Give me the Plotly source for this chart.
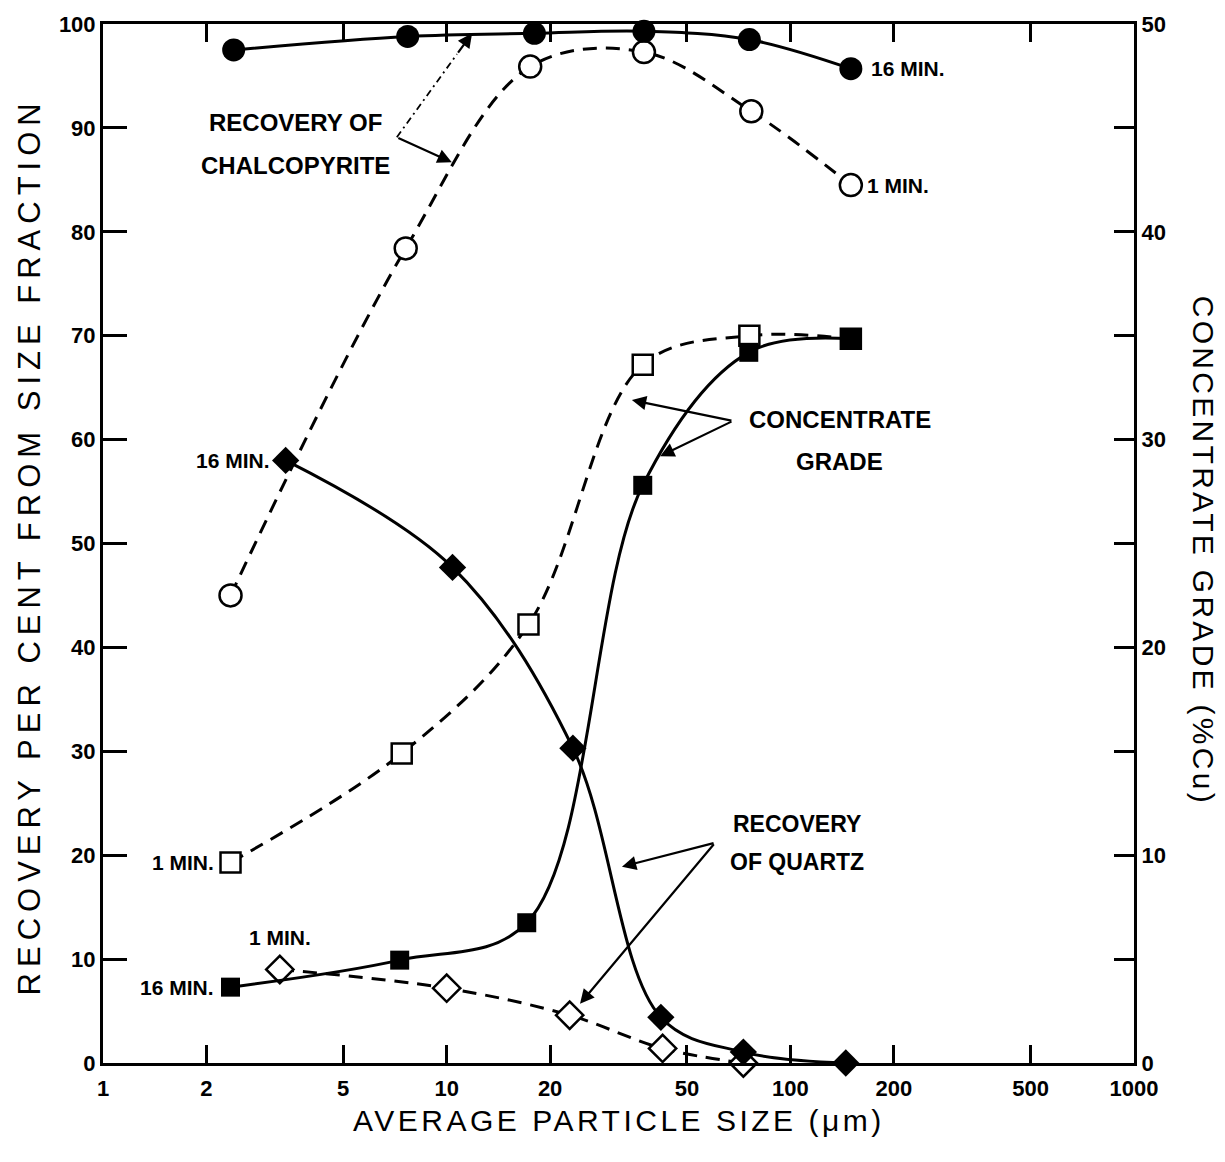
import math
import plotly.graph_objects as go

# ---- data -------------------------------------------------------------
# Recovery of chalcopyrite (% from size fraction) vs average particle size (um)
chalco_16_size = [2.4, 7.7, 18.0, 37.5, 76.0, 150.0]
chalco_16_rec = [97.5, 98.8, 99.1, 99.3, 98.5, 95.7]
chalco_1_size = [2.35, 7.6, 17.5, 37.5, 77.0, 150.0]
chalco_1_rec = [45.0, 78.4, 95.9, 97.3, 91.6, 84.5]

# Concentrate grade (% Cu), right-hand axis
grade_16_size = [2.35, 7.3, 17.1, 37.2, 75.7, 150.0]
grade_16_cu = [3.65, 4.95, 6.75, 27.8, 34.2, 34.85]
grade_1_size = [2.35, 7.4, 17.3, 37.2, 76.0, 150.0]
grade_1_cu = [9.65, 14.9, 21.1, 33.6, 35.0, 34.85]

# Recovery of quartz (% from size fraction)
quartz_16_size = [3.4, 10.4, 23.3, 42.0, 73.0, 145.0]
quartz_16_rec = [58.0, 47.7, 30.3, 4.4, 1.05, 0.0]
quartz_1_size = [3.27, 10.0, 22.8, 42.5, 73.0]
quartz_1_rec = [9.0, 7.2, 4.6, 1.4, 0.0]

x_ticks = [1, 2, 5, 10, 20, 50, 100, 200, 500, 1000]

# ---- styling -----------------------------------------------------------
FONT = "Liberation Sans"
BLACK = "black"
DASH = "14px,9px"
LW = 3


def series(x, y, symbol, size, filled, dashed, yaxis="y"):
    return go.Scatter(
        x=x, y=y, yaxis=yaxis, mode="lines+markers",
        line=dict(color=BLACK, width=LW, shape="spline", smoothing=1.0,
                  dash=DASH if dashed else "solid"),
        marker=dict(symbol=symbol, size=size,
                    color=BLACK if filled else "white",
                    line=dict(color=BLACK, width=0 if filled else 2.5)),
        cliponaxis=False, showlegend=False, hoverinfo="skip",
    )


fig = go.Figure()
# quartz (left axis)
fig.add_trace(series(quartz_1_size, quartz_1_rec, "diamond", 21, False, True))
fig.add_trace(series(quartz_16_size, quartz_16_rec, "diamond", 21, True, False))
# chalcopyrite (left axis)
fig.add_trace(series(chalco_1_size, chalco_1_rec, "circle", 22, False, True))
fig.add_trace(series(chalco_16_size, chalco_16_rec, "circle", 23, True, False))
# concentrate grade (right axis)
fig.add_trace(series(grade_1_size, grade_1_cu, "square", 20, False, True, "y2"))
fig.add_trace(series(grade_16_size, grade_16_cu, "square", 19, True, False, "y2"))

tick_font = dict(family=FONT, size=22, color=BLACK, weight="bold")

fig.update_layout(
    width=1225, height=1162,
    margin=dict(l=103, r=91, t=19, b=99),
    paper_bgcolor="white", plot_bgcolor="white",
    font=dict(family=FONT, color=BLACK),
    xaxis=dict(
        type="log", range=[0, 3], tickvals=x_ticks,
        ticktext=[str(v) for v in x_ticks],
        ticks="inside", ticklen=18, tickwidth=2.5, tickcolor=BLACK,
        ticklabelstandoff=4,
        showline=True, linewidth=3, linecolor=BLACK, mirror="ticks",
        showgrid=False, zeroline=False, tickfont=tick_font,
    ),
    yaxis=dict(
        range=[0, 100], dtick=10, ticks="inside", ticklen=24, tickwidth=3,
        tickcolor=BLACK, showline=True, linewidth=3, linecolor=BLACK,
        showgrid=False, zeroline=False, tickfont=tick_font,
    ),
    yaxis2=dict(
        overlaying="y", side="right", range=[0, 50], dtick=10,
        ticks="inside", ticklen=20, tickwidth=3, tickcolor=BLACK,
        minor=dict(dtick=5, ticks="inside", ticklen=20, tickwidth=3,
                   tickcolor=BLACK),
        showline=True, linewidth=3, linecolor=BLACK,
        showgrid=False, zeroline=False, tickfont=tick_font,
    ),
)

ann = []


def text(x, y, s, size=23, xanchor="center", yref="y", xshift=0, yshift=0):
    ann.append(dict(x=x, y=y, xref="x", yref=yref, text=s, showarrow=False,
                    xanchor=xanchor, yanchor="middle", xshift=xshift,
                    yshift=yshift,
                    font=dict(family=FONT, size=size, color=BLACK,
                              weight="bold")))


def arrow(tail, head):
    ann.append(dict(x=head[0], y=head[1], ax=tail[0], ay=tail[1],
                    xref="x", yref="y", axref="x", ayref="y", text="",
                    showarrow=True, arrowhead=2, arrowsize=1.3,
                    arrowwidth=2.2, arrowcolor=BLACK))


def spaced(s, px):
    return '<span style="letter-spacing:%spx">%s</span>' % (px, s)


# axis titles
ann.append(dict(x=0.5, y=-0.0556, xref="paper", yref="paper",
                xanchor="center", yanchor="middle",
                text=spaced("AVERAGE PARTICLE SIZE (μm)", 3.5),
                showarrow=False,
                font=dict(family=FONT, size=30, color=BLACK)))
ann.append(dict(x=-0.071, y=0.497, xref="paper", yref="paper",
                xanchor="center", yanchor="middle",
                text=spaced("RECOVERY PER CENT FROM SIZE FRACTION", 6),
                showarrow=False, textangle=-90,
                font=dict(family=FONT, size=31, color=BLACK)))
ann.append(dict(x=1.067, y=0.493, xref="paper", yref="paper",
                xanchor="center", yanchor="middle",
                text=spaced("CONCENTRATE GRADE (%Cu)", 3.3),
                showarrow=False, textangle=90,
                font=dict(family=FONT, size=30, color=BLACK)))

# callouts (annotation x in log10 units on the log axis)
text(0.559, 90.5, "RECOVERY OF", 24)
text(0.559, 86.4, "CHALCOPYRITE", 24)
vertex = (0.855, 89.1)
fig.add_shape(type="line", x0=10 ** vertex[0], y0=vertex[1],
              x1=10 ** 1.03, y1=97.1, xref="x", yref="y",
              line=dict(color=BLACK, width=1.8, dash="7px,4px,2px,4px"))
arrow((1.03, 97.1), (1.074, 99.1))
arrow(vertex, (1.015, 86.7))

text(2.144, 61.9, "CONCENTRATE", 24)
text(2.144, 57.9, "GRADE", 24)
arrow((1.833, 61.8), (1.539, 63.8))
arrow((1.833, 61.8), (1.621, 58.4))

text(2.019, 23.0, "RECOVERY", 23)
text(2.019, 19.3, "OF QUARTZ", 23)
arrow((1.781, 21.2), (1.510, 18.9))
arrow((1.781, 21.2), (1.388, 5.7))

# run-time labels beside the curves
text(math.log10(chalco_16_size[-1]), chalco_16_rec[-1], "16 MIN.", 21,
     xanchor="left", xshift=18)
text(math.log10(chalco_1_size[-1]), chalco_1_rec[-1], "1 MIN.", 21,
     xanchor="left", xshift=14)
text(math.log10(quartz_16_size[0]), quartz_16_rec[0], "16 MIN.", 21,
     xanchor="right", xshift=-14)
text(math.log10(grade_1_size[0]), grade_1_cu[0], "1 MIN.", 21,
     xanchor="right", xshift=-15, yref="y2")
text(math.log10(quartz_1_size[0]), quartz_1_rec[0], "1 MIN.", 21,
     yshift=32)
text(math.log10(grade_16_size[0]), grade_16_cu[0], "16 MIN.", 21,
     xanchor="right", xshift=-15, yref="y2")

fig.update_layout(annotations=ann)
fig.write_html("out.html")
